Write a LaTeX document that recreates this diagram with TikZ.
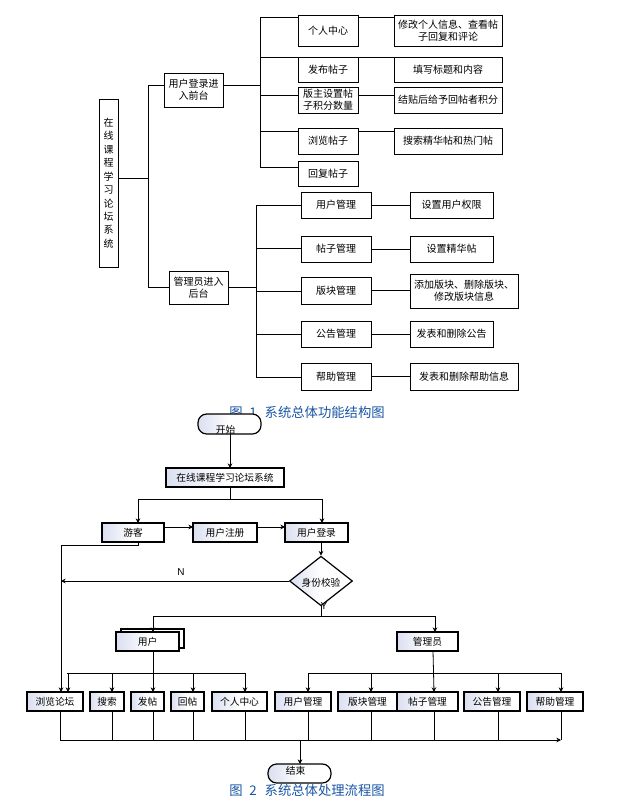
\documentclass[tikz,border=0pt]{standalone}
\usepackage{fontspec}
\setmainfont{Liberation Sans}
\newfontfamily\cjk{Noto Sans CJK SC}
\usetikzlibrary{shapes.geometric,arrows.meta}
\definecolor{capblue}{RGB}{25,85,165}
\definecolor{shadeb}{RGB}{218,223,240}
\newcommand\boxat[7]{\node[#1,minimum width={(#5-#3)*0.75pt},minimum height={(#6-#4)*0.75pt}] (#2) at ({(#3+#5)/2},{(#4+#6)/2}) {#7};}
\begin{document}
\begin{tikzpicture}[x=0.75pt,y=-0.75pt,
  tbox/.style={draw, line width=0.6pt, inner sep=0pt, outer sep=0pt, align=center, font=\cjk\fontsize{7.5}{9}\selectfont},
  flowbox/.style={draw, line width=0.9pt, inner sep=0pt, outer sep=0pt, align=center, left color=shadeb, right color=white, middle color=white, font=\cjk\fontsize{7.3}{9}\selectfont},
  term/.style={flowbox, rounded corners=6.5pt},
  ln/.style={line width=0.6pt},
  arr/.style={line width=0.6pt, -{Stealth[length=3.5pt,width=3.5pt]}},
  captext/.style={anchor=west, inner sep=0pt, text=capblue, font=\cjk\fontsize{10}{12}\selectfont},
  lat/.style={inner sep=0pt, font=\fontsize{7.5}{9}\selectfont}]
\useasboundingbox (0,0) rectangle (640,806);

% ---------------- Figure 1 ----------------
\boxat{tbox,font=\cjk\fontsize{7.5}{10.1}\selectfont}{sysv}{99}{99}{118}{267}{在\\线\\课\\程\\学\\习\\论\\坛\\系\\统}
\boxat{tbox}{front}{164}{73}{223}{107}{用户登录进\\入前台}
\boxat{tbox}{back}{169}{271}{228}{304}{管理员进入\\后台}

\boxat{tbox}{f1}{298}{15}{358}{46}{个人中心}
\boxat{tbox}{f2}{298}{57}{358}{82}{发布帖子}
\boxat{tbox}{f3}{298}{87}{358}{113}{版主设置帖\\子积分数量}
\boxat{tbox}{f4}{298}{128}{358}{154}{浏览帖子}
\boxat{tbox}{f5}{298}{161}{358}{186}{回复帖子}

\boxat{tbox}{g1}{394}{15}{502}{46}{修改个人信息、查看帖\\子回复和评论}
\boxat{tbox}{g2}{394}{57}{502}{82}{填写标题和内容}
\boxat{tbox}{g3}{394}{87}{502}{113}{结贴后给予回帖者积分}
\boxat{tbox}{g4}{394}{128}{502}{154}{搜索精华帖和热门帖}

\boxat{tbox}{b1}{301}{192}{371}{218}{用户管理}
\boxat{tbox}{b2}{301}{236}{371}{262}{帖子管理}
\boxat{tbox}{b3}{301}{277}{371}{304}{版块管理}
\boxat{tbox}{b4}{301}{321}{371}{347}{公告管理}
\boxat{tbox}{b5}{301}{363}{371}{390}{帮助管理}

\boxat{tbox}{c1}{410}{192}{493}{218}{设置用户权限}
\boxat{tbox}{c2}{410}{236}{493}{262}{设置精华帖}
\boxat{tbox}{c3}{410}{274}{518}{308}{添加版块、删除版块、\\修改版块信息}
\boxat{tbox}{c4}{410}{321}{493}{347}{发表和删除公告}
\boxat{tbox}{c5}{410}{363}{518}{390}{发表和删除帮助信息}

\coordinate (busA) at (148,178);
\draw[ln] (sysv.east |- busA) -- (busA);
\draw[ln] (front.west |- 0,85) -- (148,85) -- (148,287) -- (back.west |- 0,287);

\draw[ln] (front.east |- 0,85) -- (260,85);
\draw[ln] (f1.west |- 0,17) -- (260,17) -- (260,167) -- (f5.west |- 0,167);
\foreach \n/\y in {f2/57,f3/95,f4/131} \draw[ln] (260,\y) -- (\n.west |- 0,\y);
\foreach \a/\b/\y in {f1/g1/17,f2/g2/57,f3/g3/95,f4/g4/131} \draw[ln] (\a.east |- 0,\y) -- (\b.west |- 0,\y);

\draw[ln] (back.east |- 0,287) -- (256,287);
\draw[ln] (b1.west) -- (256,205) -- (256,377) -- (b5.west |- 0,377);
\foreach \n/\y in {b2/248,b3/291,b4/334} \draw[ln] (256,\y) -- (\n.west |- 0,\y);
\foreach \a/\b in {b1/c1,b2/c2,b3/c3,b4/c4,b5/c5} \draw[ln] (\a.east) -- (\b.west |- \a.east);

\node[captext] (cap1) at (229,412) {图\hspace{5pt}1\hspace{6pt}系统总体功能结构图};

% ---------------- Figure 2 ----------------
\boxat{term,text height=14.5pt,text depth=0pt}{start}{198}{414}{261}{434}{开始\hspace*{6pt}}
\boxat{flowbox}{sys}{166}{468}{284}{487}{在线课程学习论坛系统}
\boxat{flowbox}{guest}{102}{523}{164}{542}{游客}
\boxat{flowbox}{reg}{193}{523}{257}{542}{用户注册}
\boxat{flowbox}{login}{285}{523}{348}{542}{用户登录}
\node[diamond, draw, line width=0.9pt, inner sep=0pt, left color=shadeb, right color=white, middle color=white,
      minimum width={63*0.75pt}, minimum height={29*0.75pt}, text height=8pt, text depth=0pt,
      font=\cjk\fontsize{7.3}{9}\selectfont] (check) at (321,581) {身份校验};

\draw[line width=0.9pt] (121,629) rectangle (184,648);
\boxat{flowbox}{user}{116}{632}{179}{651}{用户}
\boxat{flowbox}{admin}{397}{632}{458}{651}{管理员}

\boxat{flowbox}{browse}{27}{692}{83}{711}{浏览论坛}
\boxat{flowbox}{search}{90}{692}{124}{711}{搜索}
\boxat{flowbox}{post}{131}{692}{164}{711}{发帖}
\boxat{flowbox}{reply}{171}{692}{204}{711}{回帖}
\boxat{flowbox}{pcenter}{212}{692}{267}{711}{个人中心}
\boxat{flowbox}{um}{275}{692}{331}{711}{用户管理}
\boxat{flowbox}{bm}{338}{692}{397}{711}{版块管理}
\boxat{flowbox}{pm}{397}{692}{458}{711}{帖子管理}
\boxat{flowbox}{nm}{464}{692}{520}{711}{公告管理}
\boxat{flowbox}{hm}{527}{692}{583}{711}{帮助管理}

\boxat{term,text height=5pt,text depth=3.3pt}{endt}{268}{764}{331}{783}{结束\hspace*{6pt}}

\draw[arr] (start.south -| 230,0) -- (sys.north -| 230,0);
\draw[ln] (sys.south -| 230,0) -- (230,499);
\draw[arr] (230,499) -| (guest.north -| 138,0);
\draw[arr] (230,499) -| (login.north -| 322,0);
\draw[arr] (guest.east |- 0,527) -- (reg.west |- 0,527);
\draw[arr] (reg.east |- 0,527) -- (login.west |- 0,527);

\coordinate (nleft) at (61,581);
\draw[arr] (guest.south -| 138,0) -- (138,545) -- (61,545) -- (browse.north -| 61,0);
\draw[arr] (login.south -| 321,0) -- (check.north);
\draw[arr] (check.west) -- (nleft);
\node[lat] (nlab) at (181,572) {N};
\node[lat] (ylab) at (324,606) {Y};

\draw[ln] (check.south) -- (321,616);
\draw[arr] (321,616) -| (user.north -| 153,0);
\draw[arr] (321,616) -| (admin.north -| 435,0);

\draw[ln] (user.south -| 153,0) -- (153,673);
\draw[ln] (67,673) -- (245,673);
\foreach \n/\x in {browse/68,search/112,post/153,reply/193,pcenter/245}
  \draw[arr] (\x,673) -- (\n.north -| \x,0);

\draw[arr] (admin.south -| 433,0) -- (pm.north -| 434,0);
\draw[ln] (308,673) -- (561,673);
\foreach \n/\x in {um/308,bm/371,nm/498,hm/561}
  \draw[arr] (\x,673) -- (\n.north -| \x,0);

\foreach \n/\x in {browse/60,search/112,post/153,reply/193,pcenter/245,um/308,bm/371,pm/434,nm/498,hm/561}
  \draw[ln] (\n.south -| \x,0) -- (\x,740);
\draw[arr] (60,740) -- (561,740);
\draw[arr] (300,740) -- (endt.north -| 300,0);

\node[captext] (cap2) at (229,790) {图\hspace{5pt}2\hspace{6pt}系统总体处理流程图};
\end{tikzpicture}
\end{document}
